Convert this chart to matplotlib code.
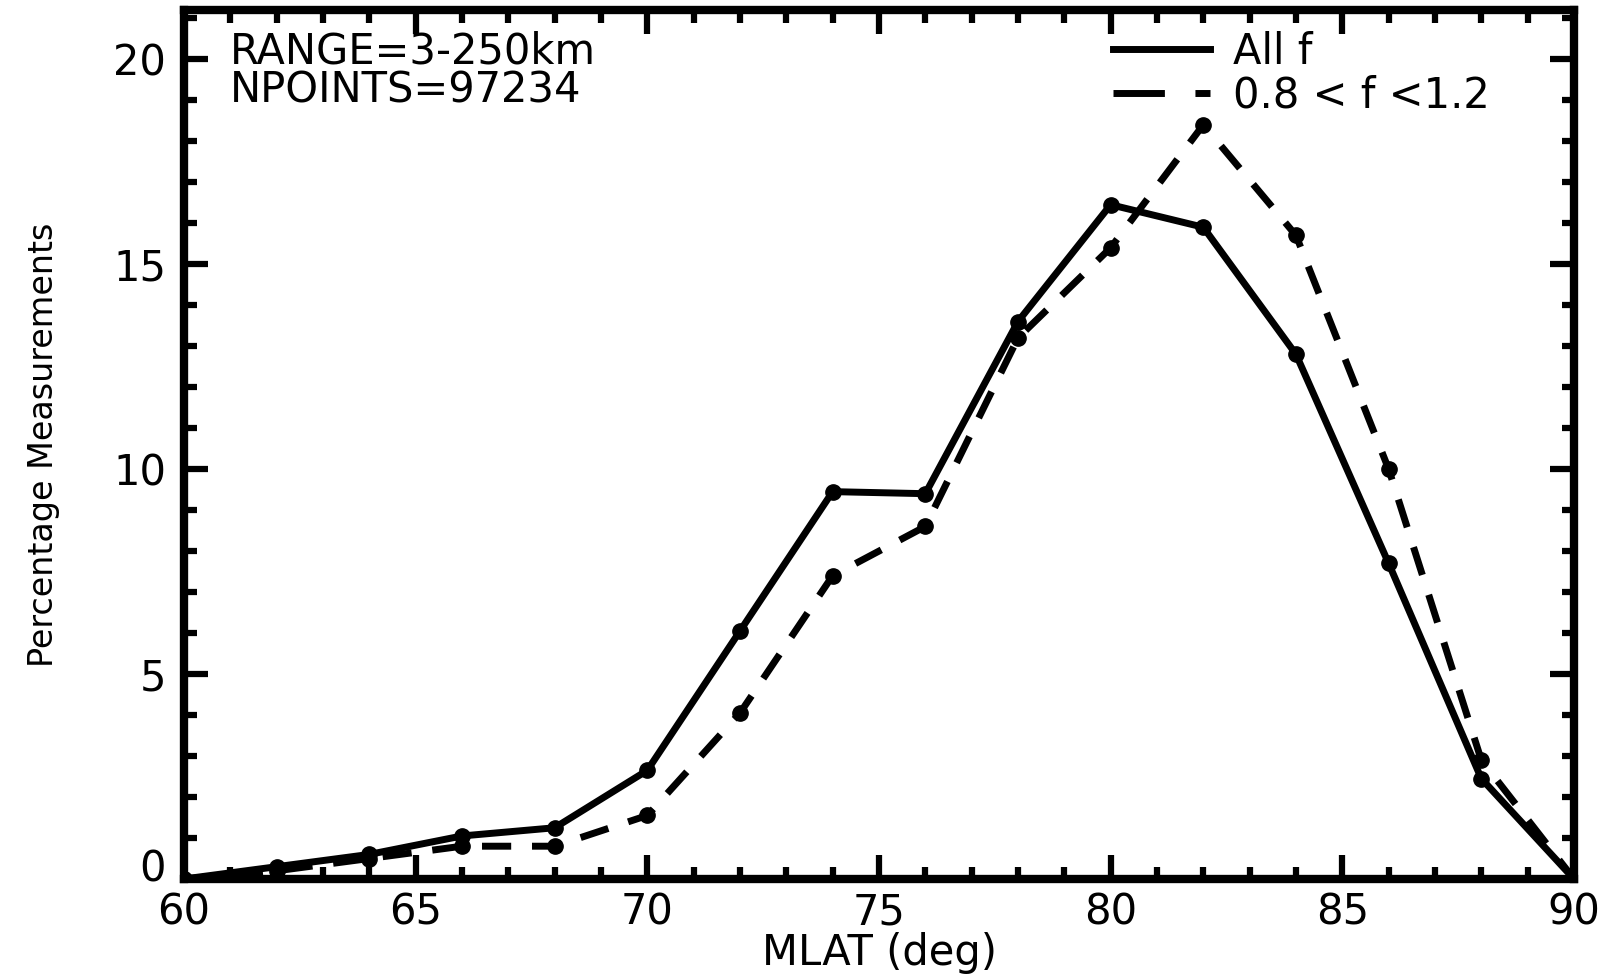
import matplotlib
matplotlib.use("Agg")
import matplotlib.pyplot as plt
from matplotlib.lines import Line2D
from matplotlib.ticker import MultipleLocator
from matplotlib.transforms import ScaledTranslation

plt.rcParams['font.family'] = ['DejaVu Sans']
plt.rcParams['lines.scale_dashes'] = False

mlat = [60, 62, 64, 66, 68, 70, 72, 74, 76, 78, 80, 82, 84, 86, 88, 90]
all_f = [0.0, 0.3, 0.6, 1.05, 1.25, 2.65, 6.05, 9.45, 9.4, 13.6, 16.45, 15.9, 12.8, 7.7, 2.45, 0.0]
f_band = [0.0, 0.2, 0.5, 0.8, 0.8, 1.55, 4.05, 7.4, 8.6, 13.2, 15.4, 18.4, 15.7, 10.0, 2.9, 0.0]

label_all = "All f"
label_band = "0.8 < f <1.2"
text_range = "RANGE=3-250km"
text_npoints = "NPOINTS=97234"
xlabel = "MLAT (deg)"
ylabel = "Percentage Measurements"

FS = 30

fig = plt.figure(figsize=(16.1, 9.75), dpi=100)
L, R, T, B = 184, 1574, 10, 879
ax = fig.add_axes([L / 1610, 1 - B / 975, (R - L) / 1610, (B - T) / 975])

lw = 5.0
ax.plot(mlat, all_f, color='black', lw=lw, marker='o', ms=11, solid_joinstyle='round')
ax.plot(mlat, f_band, color='black', lw=lw, marker='o', ms=11,
        dashes=(21, 15), dash_capstyle='butt')

ax.set_xlim(60, 90)
ax.set_ylim(0, 21.2)
ax.xaxis.set_major_locator(MultipleLocator(5))
ax.xaxis.set_minor_locator(MultipleLocator(1))
ax.yaxis.set_major_locator(MultipleLocator(5))
ax.yaxis.set_minor_locator(MultipleLocator(1))

for s in ax.spines.values():
    s.set_linewidth(6)
ax.tick_params(which='both', direction='in', top=True, right=True, width=4.5,
               labelsize=FS)
ax.tick_params(axis='x', which='both', pad=9)
ax.tick_params(axis='y', which='both', pad=13)
ax.tick_params(which='major', length=17)
ax.tick_params(which='minor', length=9)

ax.set_xlabel(xlabel, fontsize=FS, labelpad=-1)
ax.set_ylabel(ylabel, fontsize=24, labelpad=38)

# the "0" label on the y axis sits a little above the axis line
fig.canvas.draw()
for tk in ax.yaxis.get_major_ticks():
    if abs(tk.get_loc()) < 1e-9:
        lab0 = tk.label1
        lab0.set_transform(lab0.get_transform() +
                           ScaledTranslation(0, 0.14, fig.dpi_scale_trans))

ax.text(0.033, 0.938, text_range, transform=ax.transAxes, fontsize=FS, va='baseline')
ax.text(0.033, 0.893, text_npoints, transform=ax.transAxes, fontsize=FS, va='baseline')

h1 = Line2D([], [], color='black', lw=lw)
h2 = Line2D([], [], color='black', lw=lw, dashes=(37, 22), dash_capstyle='butt')
ax.legend([h1, h2], [label_all, label_band], loc='upper left',
          bbox_to_anchor=(0.668, 0.976), frameon=False, fontsize=FS,
          handlelength=2.34, handletextpad=0.55, labelspacing=0.05,
          borderpad=0, borderaxespad=0)

fig.savefig("out.png", dpi=100)
